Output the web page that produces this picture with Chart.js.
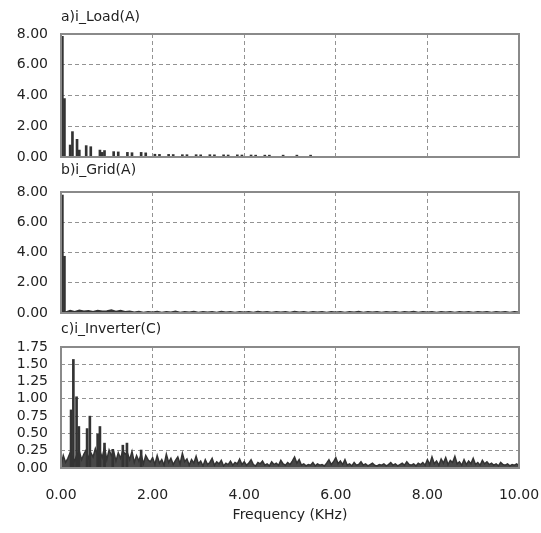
<!DOCTYPE html>
<html>
<head>
<meta charset="utf-8">
<script src="https://cdn.jsdelivr.net/npm/chart.js@4.4.1/dist/chart.umd.min.js"></script>
<style>
  html, body { margin: 0; padding: 0; background: #fff; }
  #wrap { position: relative; width: 541px; height: 533px; overflow: hidden; }
  canvas { position: absolute; left: 0; }
</style>
</head>
<body>
<div id="wrap">
  <canvas id="chartA" width="541" height="175" style="top:0px"></canvas>
  <canvas id="chartB" width="541" height="180" style="top:150px"></canvas>
  <canvas id="chartC" width="541" height="228" style="top:305px"></canvas>
</div>
<script>
// tick labels
const xTickLabels = ["0.00", "2.00", "4.00", "6.00", "8.00", "10.00"];
const ampTickLabels = ["0.00", "2.00", "4.00", "6.00", "8.00"];
const invTickLabels = ["0.00", "0.25", "0.50", "0.75", "1.00", "1.25", "1.50", "1.75"];

// a) load current harmonics (kHz, A)
const loadFreq = [0.03, 0.075, 0.20, 0.25, 0.35, 0.40, 0.55, 0.65, 0.85, 0.90, 0.95, 1.15, 1.25,
  1.45, 1.55, 1.75, 1.85, 2.05, 2.15, 2.35, 2.45, 2.65, 2.75, 2.95, 3.05, 3.25, 3.35, 3.55, 3.65,
  3.85, 3.95, 4.15, 4.25, 4.45, 4.55, 4.85, 5.15, 5.45];
const loadAmp = [7.85, 3.80, 0.78, 1.65, 1.15, 0.45, 0.74, 0.67, 0.45, 0.30, 0.42, 0.35, 0.33,
  0.30, 0.28, 0.30, 0.27, 0.18, 0.17, 0.17, 0.16, 0.15, 0.15, 0.15, 0.14, 0.15, 0.14, 0.14, 0.13,
  0.14, 0.13, 0.13, 0.12, 0.12, 0.12, 0.12, 0.12, 0.12];

// b) grid current: fundamental spikes + low floor sampled every 0.1 kHz
const gridSpikeFreq = [0.03, 0.075];
const gridSpikeAmp = [7.80, 3.75];
const GRID_STEP = 0.1;
const gridFloor = [
  0.10, 0.06, 0.16, 0.09, 0.18, 0.12, 0.15, 0.08, 0.17, 0.11,
  0.14, 0.19, 0.10, 0.16, 0.08, 0.12, 0.05, 0.10, 0.04, 0.09,
  0.05, 0.10, 0.04, 0.09, 0.05, 0.11, 0.04, 0.08, 0.05, 0.10,
  0.04, 0.09, 0.05, 0.08, 0.04, 0.10, 0.05, 0.09, 0.04, 0.08,
  0.05, 0.09, 0.04, 0.10, 0.05, 0.08, 0.04, 0.09, 0.05, 0.08,
  0.04, 0.10, 0.05, 0.08, 0.04, 0.09, 0.05, 0.08, 0.04, 0.09,
  0.05, 0.08, 0.04, 0.09, 0.05, 0.10, 0.04, 0.08, 0.05, 0.09,
  0.04, 0.08, 0.05, 0.09, 0.04, 0.08, 0.05, 0.10, 0.04, 0.09,
  0.05, 0.09, 0.04, 0.08, 0.05, 0.09, 0.04, 0.08, 0.05, 0.09,
  0.04, 0.08, 0.05, 0.09, 0.04, 0.08, 0.05, 0.09, 0.04, 0.08,
  0.05];

// c) inverter current: harmonic peaks (kHz, value) ...
const invPeakFreq = [0.22, 0.27, 0.34, 0.39, 0.57, 0.63, 0.80, 0.85, 0.95, 1.13, 1.35, 1.44, 1.75];
const invPeakAmp = [0.84, 1.57, 1.03, 0.60, 0.57, 0.75, 0.49, 0.60, 0.36, 0.27, 0.33, 0.36, 0.26];
// ... over a noise floor sampled every 0.05 kHz
const INV_STEP = 0.05;
const invFloor = [
  0.04, 0.18, 0.08, 0.14, 0.22, 0.16, 0.10, 0.20, 0.24, 0.12, 0.20, 0.26, 0.14, 0.22, 0.16, 0.28, 0.18, 0.24, 0.15, 0.30,
  0.12, 0.26, 0.18, 0.24, 0.10, 0.22, 0.14, 0.25, 0.20, 0.22, 0.12, 0.24, 0.08, 0.18, 0.10, 0.20, 0.06, 0.18, 0.12, 0.09,
  0.15, 0.05, 0.18, 0.07, 0.12, 0.04, 0.20, 0.08, 0.14, 0.05, 0.11, 0.16, 0.06, 0.21, 0.09, 0.13, 0.04, 0.12, 0.07, 0.17,
  0.06, 0.10, 0.03, 0.12, 0.05, 0.08, 0.14, 0.04, 0.09, 0.06, 0.11, 0.03, 0.07, 0.05, 0.10, 0.04, 0.08, 0.06, 0.13, 0.05,
  0.09, 0.04, 0.07, 0.12, 0.05, 0.03, 0.08, 0.06, 0.10, 0.04, 0.06, 0.03, 0.09, 0.05, 0.07, 0.04, 0.11, 0.06, 0.04, 0.08,
  0.05, 0.10, 0.16, 0.07, 0.12, 0.04, 0.06, 0.03, 0.05, 0.04, 0.08, 0.03, 0.06, 0.04, 0.05, 0.03, 0.07, 0.12, 0.05, 0.09,
  0.15, 0.06, 0.10, 0.05, 0.12, 0.04, 0.06, 0.03, 0.08, 0.04, 0.05, 0.09, 0.04, 0.06, 0.03, 0.05, 0.07, 0.04, 0.03, 0.05,
  0.04, 0.06, 0.03, 0.05, 0.08, 0.04, 0.06, 0.03, 0.05, 0.07, 0.04, 0.09, 0.05, 0.04, 0.06, 0.03, 0.07, 0.05, 0.08, 0.04,
  0.12, 0.05, 0.16, 0.06, 0.10, 0.04, 0.13, 0.07, 0.15, 0.05, 0.11, 0.08, 0.17, 0.06, 0.09, 0.04, 0.12, 0.05, 0.10, 0.06,
  0.14, 0.05, 0.08, 0.04, 0.11, 0.06, 0.09, 0.05, 0.07, 0.04, 0.06, 0.03, 0.08, 0.05, 0.04, 0.06, 0.03, 0.05, 0.04, 0.06,
  0.03];

const FONT = { family: "'DejaVu Sans', sans-serif", size: 14, weight: "normal" };
const TEXT = "#222";
const GRID = "#939393";
const INK = "#333";
const NONE = "rgba(0,0,0,0)";

// grey box round each plot area
const frame = {
  id: "frame",
  afterDraw(chart) {
    const { ctx, chartArea: a } = chart;
    ctx.save();
    ctx.setLineDash([]);
    ctx.strokeStyle = "#8a8a8a";
    ctx.lineWidth = 2;
    ctx.strokeRect(a.left, a.top, a.right - a.left, a.bottom - a.top);
    ctx.restore();
  }
};

// invisible tick marks are used as spacing between the axis and its labels
function xScale(showTicks) {
  return {
    type: "linear", min: 0, max: 10, offset: false,
    grid: {
      color: GRID, lineWidth: 1, offset: false,
      drawTicks: showTicks, tickLength: 17.6, tickColor: NONE
    },
    border: { display: false, dash: [4, 3] },
    ticks: {
      display: showTicks, stepSize: 2, padding: 1, maxRotation: 0,
      color: TEXT, font: FONT, callback: (v, i) => xTickLabels[i]
    },
    title: {
      display: showTicks, text: "Frequency (KHz)", color: TEXT, font: FONT,
      padding: { top: 2.2, bottom: 0 }
    }
  };
}

function yScale(max, step, labels) {
  return {
    min: 0, max: max,
    afterFit: s => { s.width = 61; },
    grid: { color: GRID, lineWidth: 1, drawTicks: true, tickLength: 13, tickColor: NONE },
    border: { display: false, dash: [4, 3] },
    ticks: {
      stepSize: step, autoSkip: false, padding: 0,
      color: TEXT, font: FONT, callback: (v, i) => labels[i]
    }
  };
}

function options(title, padTop, padBottom, bottom, y, showX) {
  return {
    responsive: false,
    animation: false,
    layout: { padding: { left: 0, right: 22, top: 0, bottom: bottom } },
    plugins: {
      legend: { display: false },
      tooltip: { enabled: false },
      title: {
        display: true, text: title, align: "start", fullSize: false,
        color: TEXT, font: FONT, padding: { top: padTop, bottom: padBottom }
      }
    },
    scales: { x: xScale(showX), y: y }
  };
}

const toPoints = (xs, ys) => xs.map((x, i) => ({ x: x, y: ys[i] }));
const onGrid = (ys, step) => ys.map((y, i) => ({ x: +(i * step).toFixed(2), y: y }));

new Chart(document.getElementById("chartA"), {
  type: "bar",
  data: {
    datasets: [{
      data: toPoints(loadFreq, loadAmp),
      backgroundColor: INK, barThickness: 2
    }]
  },
  options: options("a)i_Load(A)", 9, 8.2, 18, yScale(8, 2, ampTickLabels), false),
  plugins: [frame]
});

new Chart(document.getElementById("chartB"), {
  type: "bar",
  data: {
    datasets: [
      { type: "bar", data: toPoints(gridSpikeFreq, gridSpikeAmp), backgroundColor: INK, barThickness: 2 },
      {
        type: "line", data: onGrid(gridFloor, GRID_STEP),
        borderColor: INK, borderWidth: 1.5, pointRadius: 0, tension: 0,
        fill: "origin", backgroundColor: INK
      }
    ]
  },
  options: options("b)i_Grid(A)", 11.6, 13.6, 17, yScale(8, 2, ampTickLabels), false),
  plugins: [frame]
});

new Chart(document.getElementById("chartC"), {
  type: "bar",
  data: {
    datasets: [
      {
        type: "bar", order: 0, data: toPoints(invPeakFreq, invPeakAmp),
        backgroundColor: INK, barThickness: 2
      },
      {
        type: "line", order: 1, data: onGrid(invFloor, INV_STEP),
        borderColor: INK, borderWidth: 1.5, pointRadius: 0, tension: 0,
        fill: "origin", backgroundColor: "#484848"
      }
    ]
  },
  options: options("c)i_Inverter(C)", 15.6, 9.6, 9.6, yScale(1.75, 0.25, invTickLabels), true),
  plugins: [frame]
});
</script>
</body>
</html>
